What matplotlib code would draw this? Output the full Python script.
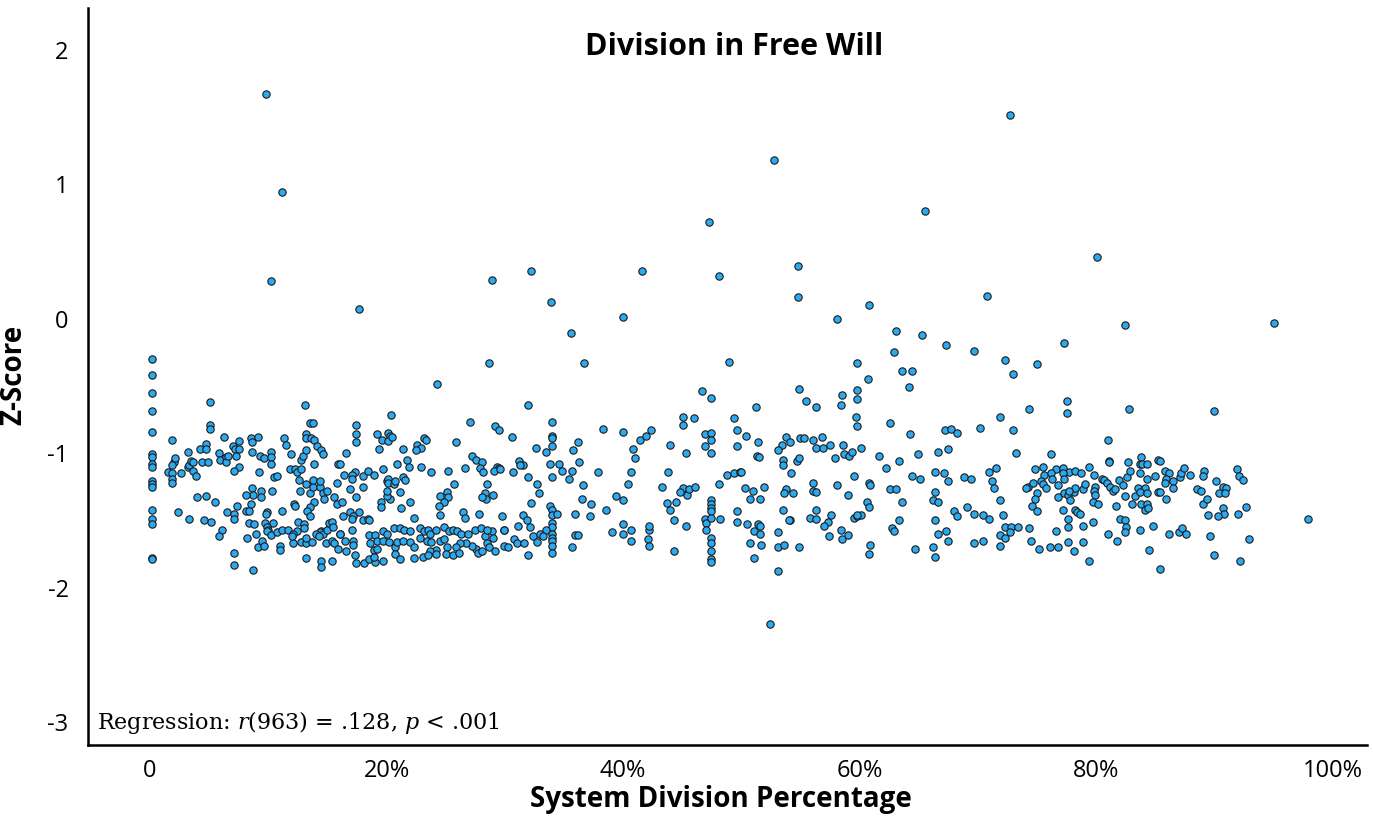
import numpy as np
import matplotlib
matplotlib.use("Agg")
import matplotlib.pyplot as plt

# --- data: (system division %, z-score) ---
zero_col_y = [-0.30, -0.42, -0.55, -0.69, -0.84, -1.01, -1.03, -1.08, -1.10, -1.21,
              -1.23, -1.25, -1.42, -1.49, -1.53, -1.78, -1.79]

pts_0_16 = [
    (5.1, -0.62), (5.1, -0.79), (5.1, -0.82), (1.9, -0.90), (1.5, -1.14), (1.9, -1.15),
    (1.9, -1.19), (1.9, -1.22), (2.0, -1.07), (2.1, -1.04), (1.9, -1.09), (2.6, -1.15),
    (3.2, -0.99), (3.2, -1.10), (3.3, -1.09), (3.5, -1.06), (3.6, -1.07), (3.6, -1.13),
    (3.9, -1.17), (4.2, -0.97), (4.7, -0.93), (4.7, -0.97), (4.4, -1.07), (4.9, -1.07),
    (4.0, -1.33), (4.7, -1.32), (5.5, -1.36), (2.4, -1.44), (3.3, -1.49), (4.6, -1.50),
    (5.2, -1.51), (6.1, -1.57), (5.8, -1.62), (7.1, -1.74), (7.1, -1.83), (8.7, -1.87),
    (6.3, -0.88), (5.8, -1.00), (5.9, -1.05), (6.4, -1.03), (6.4, -1.07), (6.6, -1.02),
    (7.0, -0.95), (7.2, -0.97), (7.3, -1.02), (7.5, -0.91), (7.5, -0.97), (7.5, -1.10),
    (7.1, -1.13), (7.4, -1.39), (6.5, -1.44), (7.1, -1.45), (7.1, -1.49), (8.5, -0.89),
    (8.6, -0.92), (9.1, -0.88), (8.6, -0.99), (9.3, -1.02), (9.6, -1.04), (10.2, -0.99),
    (10.2, -1.03), (10.2, -1.08), (9.2, -1.14), (10.5, -1.18), (10.7, -1.17), (8.6, -1.26),
    (8.7, -1.31), (8.1, -1.31), (9.4, -1.28), (9.4, -1.33), (10.3, -1.28), (8.5, -1.38),
    (8.1, -1.43), (8.4, -1.43), (9.9, -1.44), (9.8, -1.45), (11.2, -1.43), (8.4, -1.52),
    (8.8, -1.53), (9.7, -1.52), (10.4, -1.52), (9.9, -1.55), (10.0, -1.57), (9.9, -1.58),
    (9.0, -1.60), (8.2, -1.63), (9.1, -1.70), (9.5, -1.65), (9.6, -1.69), (10.2, -1.61),
    (10.7, -1.59), (11.0, -1.69), (11.0, -1.72), (11.2, -1.57), (11.7, -1.57), (12.1, -1.67),
    (12.2, -1.38), (12.3, -1.39), (11.8, -1.12), (12.3, -1.12), (12.4, -1.14), (12.8, -1.12),
    (12.6, -1.20), (12.7, -1.28), (13.2, -1.23), (13.5, -1.30), (13.8, -1.25), (13.8, -1.20),
    (14.4, -1.25), (14.4, -1.21), (14.6, -1.30), (14.7, -1.34), (15.0, -1.28), (13.9, -1.36),
    (13.5, -1.40), (13.3, -1.43), (13.5, -1.47), (11.3, -0.89), (11.5, -0.94), (11.9, -1.01),
    (12.8, -1.05), (12.9, -1.02), (13.2, -0.98), (13.2, -0.86), (13.2, -0.89), (13.1, -0.64),
    (13.5, -0.78), (13.8, -0.78), (13.6, -0.89), (13.9, -0.90), (14.1, -0.95), (14.5, -0.98),
    (14.6, -1.01), (13.9, -1.08), (15.9, -1.08), (15.8, -1.22), (15.6, -1.33), (15.8, -1.38),
    (12.5, -1.51), (13.0, -1.53), (13.0, -1.56), (12.4, -1.58), (12.8, -1.66), (13.2, -1.67),
    (13.7, -1.66), (13.2, -1.63), (13.2, -1.78), (14.5, -1.80), (14.5, -1.85), (15.4, -1.80),
    (14.9, -1.67), (15.4, -1.65), (15.6, -1.67), (15.9, -1.71), (14.5, -1.58), (14.4, -1.59),
    (14.6, -1.60), (15.0, -1.57), (15.1, -1.52), (15.4, -1.51), (15.5, -1.55), (16.1, -1.60),
    (14.0, -1.60), (14.3, -1.62), (12.1, -1.60), (12.0, -1.62),
]

pts_16_33 = [
    (28.7, -0.33), (24.3, -0.49), (32.0, -0.64), (20.4, -0.72), (17.4, -0.79), (17.4, -0.86),
    (17.4, -0.92), (27.1, -0.77), (29.2, -0.80), (29.5, -0.83), (30.6, -0.88), (19.2, -0.86),
    (19.6, -0.90), (20.1, -0.85), (20.3, -0.87), (20.1, -0.91), (20.5, -0.88), (19.4, -0.97),
    (21.4, -0.97), (22.6, -0.94), (22.9, -0.96), (22.5, -0.98), (23.2, -0.89), (23.3, -0.90),
    (25.9, -0.92), (32.6, -0.96), (16.6, -1.00), (16.1, -1.08), (16.4, -1.16), (17.3, -1.14),
    (17.1, -1.16), (17.1, -1.19), (18.0, -1.17), (18.4, -1.13), (18.9, -1.16), (19.7, -1.12),
    (20.0, -1.21), (20.1, -1.19), (20.1, -1.22), (20.6, -1.23), (20.7, -1.21), (21.4, -1.18),
    (21.6, -1.20), (20.9, -1.08), (21.7, -1.05), (21.9, -1.10), (22.9, -1.10), (23.8, -1.14),
    (25.2, -1.13), (26.6, -1.11), (27.2, -1.02), (27.6, -1.05), (28.1, -1.07), (27.9, -1.11),
    (28.2, -1.14), (29.3, -1.10), (29.5, -1.11), (29.1, -1.13), (29.6, -1.12), (30.7, -1.14),
    (31.2, -1.06), (31.5, -1.09), (31.3, -1.09), (32.0, -1.18), (32.7, -1.23), (32.9, -1.30),
    (32.2, -1.37), (31.5, -1.46), (31.9, -1.50), (32.1, -1.55), (31.1, -1.54), (29.8, -1.47),
    (29.9, -1.57), (27.8, -1.45), (28.5, -1.23), (28.3, -1.30), (28.4, -1.34), (29.0, -1.31),
    (28.1, -1.33), (26.5, -1.44), (26.6, -1.48), (25.7, -1.23), (25.1, -1.29), (24.5, -1.32),
    (25.2, -1.33), (24.9, -1.36), (24.4, -1.39), (24.5, -1.46), (22.3, -1.48), (22.0, -1.36),
    (21.2, -1.41), (21.1, -1.29), (20.3, -1.34), (20.0, -1.32), (19.5, -1.36), (19.5, -1.40),
    (20.0, -1.28), (18.0, -1.25), (16.9, -1.27), (17.4, -1.33), (16.2, -1.36), (16.9, -1.44),
    (17.2, -1.47), (17.7, -1.44), (16.3, -1.47), (17.1, -1.49), (18.0, -1.50), (18.4, -1.49),
    (18.5, -1.50), (17.1, -1.57), (16.1, -1.60), (16.5, -1.65), (17.2, -1.65), (17.2, -1.68),
    (16.6, -1.73), (17.3, -1.76), (17.4, -1.82), (18.1, -1.82), (18.5, -1.79), (19.0, -1.81),
    (18.5, -1.61), (19.0, -1.61), (19.7, -1.58), (19.2, -1.65), (19.7, -1.65), (20.2, -1.66),
    (20.6, -1.56), (21.1, -1.56), (21.5, -1.57), (22.0, -1.58), (20.0, -1.60), (18.6, -1.67),
    (18.9, -1.72), (19.2, -1.71), (18.9, -1.77), (19.7, -1.80), (20.7, -1.70), (20.7, -1.75),
    (21.1, -1.79), (20.9, -1.66), (21.4, -1.65), (22.0, -1.66), (22.3, -1.70), (22.3, -1.78),
    (22.8, -1.56), (23.2, -1.58), (23.5, -1.57), (23.7, -1.60), (24.2, -1.57), (24.9, -1.55),
    (22.8, -1.63), (23.4, -1.65), (23.8, -1.66), (24.5, -1.65), (24.9, -1.64), (25.3, -1.58),
    (25.6, -1.57), (26.0, -1.58), (26.3, -1.60), (26.9, -1.60), (27.5, -1.57), (28.0, -1.56),
    (28.9, -1.58), (29.0, -1.63), (28.3, -1.62), (28.5, -1.67), (28.7, -1.70), (27.6, -1.71),
    (27.2, -1.69), (26.7, -1.67), (26.2, -1.67), (25.9, -1.70), (25.1, -1.70), (24.2, -1.72),
    (23.7, -1.73), (23.1, -1.77), (23.5, -1.76), (24.2, -1.75), (25.0, -1.75), (25.6, -1.76),
    (26.1, -1.74), (27.7, -1.74), (28.1, -1.73), (29.2, -1.73), (29.9, -1.69), (30.3, -1.70),
    (30.8, -1.64), (31.0, -1.67), (31.6, -1.67), (32.0, -1.76), (32.4, -1.62), (32.7, -1.66),
    (33.0, -1.60), (28.5, -1.57), (29.9, -1.57),
]

pts_33_50 = [
    (35.6, -0.11), (36.7, -0.33), (49.0, -0.32), (46.7, -0.54), (47.4, -0.59), (34.0, -0.77),
    (34.0, -0.87), (34.0, -0.89), (34.0, -0.95), (33.5, -0.99), (35.8, -0.98), (36.2, -0.92),
    (38.3, -0.82), (40.0, -0.84), (41.4, -0.90), (41.9, -0.87), (42.4, -0.83), (40.8, -0.97),
    (41.0, -1.04), (44.0, -0.94), (45.1, -0.73), (45.1, -0.79), (46.0, -0.74), (46.9, -0.86),
    (47.4, -0.85), (47.4, -0.90), (46.9, -0.95), (47.4, -1.00), (45.3, -1.00), (49.4, -0.74),
    (49.6, -0.83), (49.6, -0.95), (33.8, -1.08), (34.6, -1.08), (34.8, -1.13), (35.7, -1.13),
    (36.3, -1.07), (35.4, -1.19), (34.0, -1.18), (36.6, -1.24), (37.9, -1.14), (40.7, -1.14),
    (40.4, -1.23), (43.8, -1.14), (43.3, -1.25), (48.8, -1.16), (49.4, -1.15), (49.9, -1.14),
    (48.1, -1.23), (45.1, -1.26), (44.8, -1.29), (45.4, -1.31), (45.6, -1.27), (46.1, -1.25),
    (43.7, -1.37), (44.5, -1.36), (44.0, -1.42), (39.4, -1.32), (40.0, -1.35), (36.5, -1.34),
    (37.3, -1.38), (38.6, -1.42), (33.8, -1.39), (34.0, -1.42), (34.0, -1.46), (34.4, -1.45),
    (35.9, -1.45), (37.2, -1.47), (34.0, -1.52), (34.0, -1.55), (33.5, -1.57), (33.2, -1.62),
    (34.0, -1.60), (34.0, -1.63), (34.0, -1.65), (34.0, -1.69), (34.0, -1.74), (35.7, -1.70),
    (35.9, -1.61), (36.2, -1.61), (39.1, -1.59), (40.0, -1.53), (40.0, -1.60), (40.7, -1.57),
    (40.7, -1.65), (42.2, -1.57), (42.2, -1.54), (42.1, -1.64), (42.2, -1.69), (44.3, -1.50),
    (45.3, -1.54), (44.3, -1.73), (46.9, -1.49), (47.0, -1.52), (47.0, -1.57), (47.4, -1.35),
    (47.4, -1.38), (47.4, -1.41), (47.4, -1.43), (47.4, -1.48), (48.2, -1.49), (47.4, -1.63),
    (47.4, -1.67), (47.4, -1.73), (47.4, -1.79), (47.4, -1.81), (49.6, -1.43), (49.6, -1.51),
]

pts_50_67 = [
    (63.1, -0.09), (65.3, -0.12), (62.9, -0.25), (59.8, -0.33), (63.6, -0.39), (64.4, -0.39),
    (60.7, -0.45), (64.2, -0.51), (54.9, -0.52), (58.5, -0.57), (59.8, -0.53), (59.8, -0.60),
    (55.5, -0.61), (56.3, -0.66), (58.4, -0.64), (51.2, -0.66), (59.7, -0.73), (59.8, -0.80),
    (62.6, -0.78), (64.3, -0.86), (50.4, -0.87), (51.4, -0.92), (53.8, -0.88), (53.4, -0.94),
    (54.1, -0.92), (53.1, -0.98), (55.0, -0.89), (55.3, -0.89), (56.1, -0.90), (56.8, -0.88),
    (56.3, -0.96), (56.9, -0.96), (57.5, -0.94), (58.6, -0.94), (60.1, -0.96), (51.3, -1.02),
    (51.5, -1.03), (53.5, -1.05), (53.5, -1.09), (54.7, -1.06), (54.9, -1.04), (58.7, -1.01),
    (59.1, -1.02), (59.4, -0.99), (57.9, -1.04), (61.6, -1.02), (63.3, -1.06), (62.2, -1.11),
    (64.9, -1.01), (66.6, -0.99), (50.0, -1.14), (54.2, -1.15), (59.5, -1.17), (56.1, -1.22),
    (58.1, -1.24), (60.8, -1.22), (60.9, -1.24), (64.4, -1.17), (65.1, -1.19), (66.4, -1.14),
    (50.3, -1.26), (51.0, -1.28), (51.9, -1.25), (50.7, -1.34), (51.6, -1.34), (53.8, -1.27),
    (53.6, -1.30), (54.4, -1.30), (56.1, -1.28), (56.3, -1.29), (59.0, -1.31), (62.6, -1.27),
    (63.1, -1.27), (60.6, -1.36), (60.8, -1.40), (63.6, -1.36), (66.4, -1.29), (66.2, -1.35),
    (66.6, -1.36), (53.5, -1.42), (56.3, -1.42), (55.8, -1.48), (56.3, -1.49), (54.1, -1.50),
    (54.0, -1.50), (57.3, -1.51), (57.6, -1.46), (57.0, -1.54), (59.5, -1.48), (59.8, -1.47),
    (60.1, -1.46), (59.8, -1.46), (50.5, -1.53), (51.4, -1.53), (51.6, -1.54), (51.1, -1.58),
    (51.6, -1.60), (53.1, -1.59), (57.4, -1.62), (58.4, -1.57), (58.5, -1.64), (59.0, -1.61),
    (63.3, -1.50), (62.7, -1.56), (62.9, -1.58), (66.4, -1.50), (66.6, -1.60), (50.7, -1.67),
    (51.7, -1.68), (53.1, -1.70), (53.6, -1.68), (54.9, -1.70), (60.9, -1.68), (60.8, -1.75),
    (64.7, -1.71), (66.2, -1.70), (66.4, -1.77), (51.1, -1.78), (53.1, -1.88), (52.4, -2.27),
]

pts_67_84 = [
    (67.3, -0.20), (69.7, -0.24), (77.3, -0.18), (72.3, -0.31), (75.0, -0.34), (73.0, -0.41),
    (77.5, -0.61), (74.3, -0.67), (77.5, -0.70), (71.9, -0.73), (82.8, -0.67), (67.2, -0.83),
    (67.7, -0.82), (68.2, -0.85), (70.2, -0.81), (73.0, -0.83), (67.5, -0.97), (73.2, -1.00),
    (76.2, -1.01), (81.0, -0.90), (81.1, -1.06), (81.1, -1.07), (82.7, -1.07), (83.7, -1.08),
    (67.1, -1.15), (67.5, -1.21), (68.8, -1.18), (69.4, -1.19), (70.9, -1.14), (71.5, -1.11),
    (71.2, -1.21), (71.4, -1.26), (71.9, -1.35), (74.8, -1.12), (75.5, -1.10), (76.6, -1.12),
    (77.2, -1.11), (77.7, -1.14), (78.2, -1.13), (78.7, -1.15), (79.4, -1.10), (79.8, -1.16),
    (75.6, -1.16), (76.2, -1.15), (76.3, -1.19), (77.2, -1.15), (77.3, -1.19), (74.2, -1.25),
    (74.1, -1.26), (74.7, -1.22), (75.3, -1.21), (75.5, -1.23), (75.8, -1.26), (75.0, -1.30),
    (74.8, -1.34), (74.6, -1.39), (75.0, -1.43), (76.8, -1.24), (76.8, -1.33), (77.3, -1.30),
    (77.6, -1.31), (77.8, -1.35), (78.1, -1.29), (78.2, -1.26), (77.7, -1.28), (78.9, -1.27),
    (79.1, -1.23), (79.9, -1.25), (79.8, -1.28), (79.9, -1.31), (79.7, -1.36), (80.2, -1.38),
    (77.2, -1.42), (78.2, -1.42), (78.4, -1.44), (78.6, -1.45), (77.6, -1.49), (78.9, -1.54),
    (79.7, -1.51), (80.5, -1.19), (80.7, -1.20), (80.9, -1.22), (81.2, -1.25), (81.4, -1.28),
    (81.6, -1.27), (81.9, -1.20), (82.3, -1.24), (82.6, -1.18), (82.9, -1.13), (82.4, -1.32),
    (83.0, -1.38), (83.3, -1.32), (83.5, -1.26), (81.7, -1.39), (82.0, -1.49), (82.4, -1.50),
    (82.5, -1.55), (82.4, -1.59), (83.7, -1.57), (68.0, -1.43), (68.2, -1.47), (69.1, -1.40),
    (69.7, -1.45), (70.4, -1.46), (70.9, -1.49), (72.1, -1.46), (72.3, -1.55), (72.8, -1.55),
    (73.4, -1.55), (74.3, -1.56), (67.3, -1.58), (67.5, -1.65), (69.7, -1.67), (70.4, -1.65),
    (71.9, -1.61), (72.3, -1.63), (72.7, -1.59), (71.9, -1.69), (74.5, -1.65), (75.2, -1.71),
    (76.1, -1.70), (76.8, -1.70), (77.6, -1.66), (78.1, -1.73), (78.9, -1.66), (79.4, -1.80),
    (76.6, -1.58), (77.6, -1.55), (81.0, -1.60), (81.8, -1.65),
]

pts_84_100 = [
    (90.0, -0.69), (83.8, -1.03), (85.2, -1.05), (85.4, -1.06), (83.9, -1.08), (84.3, -1.08),
    (83.7, -1.15), (84.3, -1.19), (85.0, -1.17), (85.8, -1.13), (86.2, -1.15), (85.9, -1.19),
    (85.8, -1.22), (86.5, -1.21), (86.5, -1.26), (84.1, -1.26), (83.7, -1.29), (84.3, -1.30),
    (85.2, -1.29), (85.4, -1.29), (85.9, -1.34), (87.1, -1.18), (87.2, -1.15), (87.4, -1.11),
    (87.9, -1.16), (88.5, -1.27), (88.9, -1.28), (89.1, -1.13), (89.0, -1.17), (90.1, -1.21),
    (90.7, -1.25), (91.0, -1.26), (90.4, -1.30), (90.9, -1.30), (89.0, -1.38), (89.4, -1.34),
    (90.7, -1.41), (90.8, -1.45), (90.3, -1.47), (89.5, -1.46), (91.9, -1.12), (92.1, -1.17),
    (92.4, -1.20), (92.7, -1.40), (92.0, -1.45), (83.8, -1.38), (84.3, -1.38), (84.1, -1.42),
    (84.4, -1.41), (84.8, -1.54), (86.2, -1.60), (87.0, -1.59), (87.3, -1.56), (87.6, -1.60),
    (89.6, -1.62), (92.9, -1.64), (84.5, -1.72), (85.4, -1.86), (90.0, -1.76), (92.2, -1.80),
    (97.9, -1.49),
]

# high outliers above the main band
pts_high = [
    (9.8, 1.67), (11.2, 0.94), (10.2, 0.28), (17.7, 0.07), (28.9, 0.29), (32.2, 0.35),
    (33.9, 0.12), (40.0, 0.01), (41.6, 0.35), (47.3, 0.72), (48.1, 0.32), (52.8, 1.18),
    (54.8, 0.39), (54.8, 0.16), (58.1, 0.00), (60.8, 0.10), (65.5, 0.80), (70.8, 0.17),
    (72.7, 1.51), (80.1, 0.46), (82.4, -0.05), (95.0, -0.03),
]

x_ticks = [0, 20, 40, 60, 80, 100]
x_tick_labels = ["0", "20%", "40%", "60%", "80%", "100%"]
y_ticks = [-3, -2, -1, 0, 1, 2]

pts = np.array([(0.2, v) for v in zero_col_y] + pts_0_16 + pts_16_33 + pts_33_50
               + pts_50_67 + pts_67_84 + pts_84_100 + pts_high)

plt.rcParams["font.family"] = ["Open Sans", "DejaVu Sans"]
plt.rcParams["mathtext.fontset"] = "dejavuserif"
plt.rcParams["axes.unicode_minus"] = False

fig = plt.figure(figsize=(13.73, 8.19), dpi=100)
ax = fig.add_axes([0.0641, 0.0904, 0.9315, 0.900])

ax.scatter(pts[:, 0], pts[:, 1], s=28, c="#2BAAF2", edgecolors="#1a1a1a",
           linewidths=0.8, zorder=3)

ax.set_xlim(-5.24, 102.9)
ax.set_ylim(-3.17, 2.31)
ax.set_xticks(x_ticks)
ax.set_xticklabels(x_tick_labels)
ax.set_yticks(y_ticks)
ax.tick_params(length=0, labelsize=17, colors="black")
ax.tick_params(axis="x", pad=10)
ax.tick_params(axis="y", pad=14)

for side in ["top", "right"]:
    ax.spines[side].set_visible(False)
for side in ["left", "bottom"]:
    ax.spines[side].set_linewidth(1.8)

ax.set_xlabel("System Division Percentage", fontsize=20, fontweight="bold")
ax.xaxis.set_label_coords(0.495, -0.054)
ax.set_ylabel("Z-Score", fontsize=20, fontweight="bold")
ax.yaxis.set_label_coords(-0.047, 0.502)
ax.text(0.505, 0.947, "Division in Free Will", transform=ax.transAxes,
        ha="center", va="center", fontsize=22, fontweight="bold")
ax.text(0.007, 0.012, "Regression: $r$(963) = .128, $p$ < .001", transform=ax.transAxes,
        ha="left", va="bottom", fontsize=16, family="DejaVu Serif")

fig.savefig("out.png", dpi=100)
